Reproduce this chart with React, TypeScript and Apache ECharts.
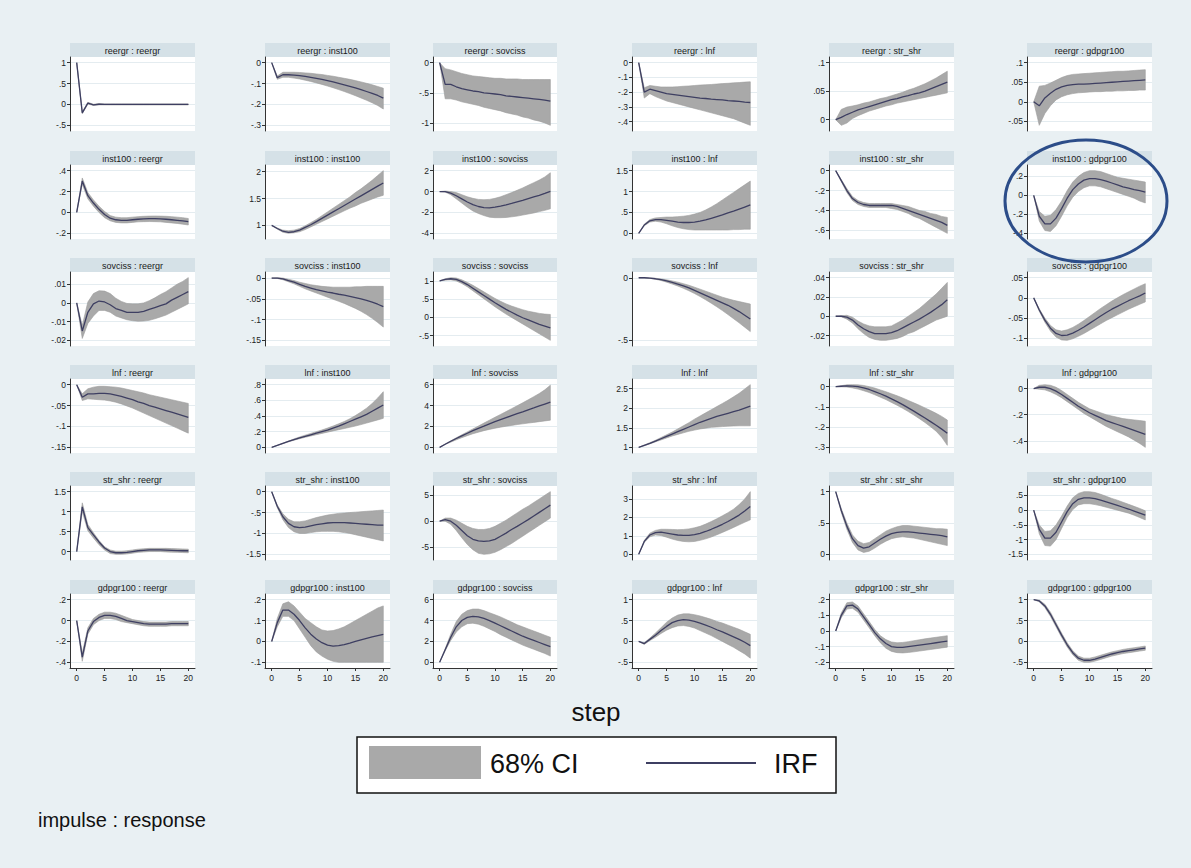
import React, { useEffect, useRef } from "react";
import * as echarts from "echarts";

const VARIABLES = ["reergr", "inst100", "sovciss", "lnf", "str_shr", "gdpgr100"];
const STEPS = [0, 1, 2, 3, 4, 5, 6, 7, 8, 9, 10, 11, 12, 13, 14, 15, 16, 17, 18, 19, 20];
const X_TICKS = [0, 5, 10, 15, 20];

const Y_TICKS_ROW1 = [[-0.5, 0, 0.5, 1], [-0.3, -0.2, -0.1, 0], [-1, -0.5, 0], [-0.4, -0.3, -0.2, -0.1, 0], [0, 0.05, 0.1], [-0.05, 0, 0.05, 0.1]];
const Y_TICKS_ROW2 = [[-0.2, 0, 0.2, 0.4], [1, 1.5, 2], [-4, -2, 0, 2], [0, 0.5, 1, 1.5], [-0.6, -0.4, -0.2, 0], [-0.4, -0.2, 0, 0.2]];
const Y_TICKS_ROW3 = [[-0.02, -0.01, 0, 0.01], [-0.15, -0.1, -0.05, 0], [-0.5, 0, 0.5, 1], [-0.5, 0], [-0.02, 0, 0.02, 0.04], [-0.1, -0.05, 0, 0.05]];
const Y_TICKS_ROW4 = [[-0.15, -0.1, -0.05, 0], [0, 0.2, 0.4, 0.6, 0.8], [0, 2, 4, 6], [1, 1.5, 2, 2.5], [-0.3, -0.2, -0.1, 0], [-0.4, -0.2, 0]];
const Y_TICKS_ROW5 = [[0, 0.5, 1, 1.5], [-1.5, -1, -0.5, 0], [-5, 0, 5], [0, 1, 2, 3], [0, 0.5, 1], [-1.5, -1, -0.5, 0, 0.5]];
const Y_TICKS_ROW6 = [[-0.4, -0.2, 0, 0.2], [-0.1, 0, 0.1, 0.2], [0, 2, 4, 6], [-0.5, 0, 0.5, 1], [-0.2, -0.1, 0, 0.1, 0.2], [-0.5, 0, 0.5, 1]];

// impulse reergr
const irf11 = [1, -0.2, 0.03, -0.01, 0.005, 0, 0, 0, 0, 0, 0, 0, 0, 0, 0, 0, 0, 0, 0, 0, 0];
const lo11 = [1, -0.22, 0.01, -0.025, -0.01, -0.012, -0.012, -0.012, -0.012, -0.012, -0.012, -0.012, -0.012, -0.012, -0.012, -0.012, -0.012, -0.012, -0.012, -0.012, -0.012];
const hi11 = [1, -0.18, 0.05, 0.005, 0.02, 0.012, 0.012, 0.012, 0.012, 0.012, 0.012, 0.012, 0.012, 0.012, 0.012, 0.012, 0.012, 0.012, 0.012, 0.012, 0.012];
const irf12 = [0, -0.072, -0.058, -0.058, -0.06, -0.062, -0.066, -0.07, -0.075, -0.08, -0.086, -0.092, -0.099, -0.106, -0.113, -0.121, -0.129, -0.138, -0.147, -0.157, -0.17];
const lo12 = [0, -0.08, -0.07, -0.07, -0.074, -0.078, -0.084, -0.09, -0.097, -0.104, -0.112, -0.12, -0.129, -0.138, -0.148, -0.158, -0.169, -0.18, -0.192, -0.205, -0.222];
const hi12 = [0, -0.064, -0.046, -0.046, -0.046, -0.047, -0.049, -0.051, -0.054, -0.057, -0.061, -0.065, -0.07, -0.075, -0.08, -0.086, -0.092, -0.099, -0.106, -0.114, -0.122];
const irf13 = [0, -0.36, -0.36, -0.4, -0.43, -0.45, -0.47, -0.48, -0.5, -0.51, -0.52, -0.53, -0.55, -0.56, -0.57, -0.58, -0.59, -0.6, -0.61, -0.62, -0.64];
const lo13 = [0, -0.6, -0.6, -0.62, -0.65, -0.67, -0.69, -0.71, -0.74, -0.76, -0.78, -0.8, -0.83, -0.85, -0.87, -0.9, -0.92, -0.95, -0.97, -1.0, -1.04];
const hi13 = [0, -0.1, -0.12, -0.15, -0.18, -0.2, -0.22, -0.23, -0.24, -0.25, -0.26, -0.26, -0.27, -0.27, -0.27, -0.28, -0.28, -0.28, -0.28, -0.28, -0.28];
const irf14 = [0, -0.2, -0.18, -0.19, -0.2, -0.21, -0.215, -0.22, -0.225, -0.23, -0.235, -0.24, -0.243, -0.247, -0.25, -0.253, -0.257, -0.26, -0.263, -0.267, -0.27];
const lo14 = [0, -0.24, -0.21, -0.23, -0.245, -0.26, -0.27, -0.28, -0.29, -0.3, -0.31, -0.32, -0.33, -0.34, -0.35, -0.36, -0.37, -0.38, -0.395, -0.41, -0.425];
const hi14 = [0, -0.17, -0.155, -0.16, -0.165, -0.165, -0.165, -0.163, -0.16, -0.158, -0.155, -0.152, -0.15, -0.148, -0.145, -0.142, -0.14, -0.137, -0.135, -0.132, -0.13];
const irf15 = [0, 0.004, 0.009, 0.013, 0.017, 0.02, 0.023, 0.026, 0.029, 0.032, 0.035, 0.037, 0.04, 0.042, 0.045, 0.047, 0.05, 0.054, 0.058, 0.062, 0.066];
const lo15 = [0, -0.01, -0.006, 0.002, 0.007, 0.011, 0.015, 0.018, 0.021, 0.024, 0.026, 0.029, 0.031, 0.033, 0.035, 0.037, 0.039, 0.041, 0.043, 0.045, 0.047];
const hi15 = [0, 0.018, 0.022, 0.024, 0.026, 0.029, 0.031, 0.034, 0.037, 0.039, 0.042, 0.045, 0.048, 0.052, 0.055, 0.059, 0.063, 0.068, 0.073, 0.079, 0.085];
const irf16 = [0, -0.01, 0.01, 0.022, 0.032, 0.038, 0.042, 0.044, 0.045, 0.045, 0.046, 0.047, 0.048, 0.049, 0.05, 0.051, 0.052, 0.053, 0.054, 0.055, 0.056];
const lo16 = [0, -0.06, -0.03, -0.01, 0.005, 0.013, 0.018, 0.021, 0.023, 0.024, 0.025, 0.026, 0.026, 0.027, 0.027, 0.028, 0.028, 0.029, 0.029, 0.03, 0.03];
const hi16 = [0, 0.04, 0.042, 0.048, 0.055, 0.062, 0.067, 0.07, 0.071, 0.072, 0.073, 0.074, 0.075, 0.076, 0.077, 0.078, 0.078, 0.079, 0.08, 0.081, 0.082];

// impulse inst100
const irf21 = [0, 0.3, 0.16, 0.09, 0.03, -0.02, -0.055, -0.07, -0.075, -0.075, -0.07, -0.065, -0.062, -0.06, -0.06, -0.062, -0.065, -0.07, -0.075, -0.08, -0.088];
const lo21 = [0, 0.27, 0.13, 0.06, 0, -0.05, -0.08, -0.095, -0.1, -0.1, -0.095, -0.09, -0.088, -0.087, -0.088, -0.09, -0.095, -0.1, -0.105, -0.112, -0.12];
const hi21 = [0, 0.33, 0.19, 0.12, 0.06, 0.01, -0.03, -0.045, -0.05, -0.05, -0.045, -0.04, -0.037, -0.035, -0.034, -0.035, -0.037, -0.04, -0.045, -0.05, -0.058];
const irf22 = [1, 0.94, 0.89, 0.87, 0.88, 0.91, 0.96, 1.01, 1.07, 1.13, 1.19, 1.25, 1.31, 1.37, 1.43, 1.49, 1.55, 1.61, 1.67, 1.73, 1.79];
const lo22 = [1, 0.93, 0.87, 0.85, 0.86, 0.88, 0.92, 0.97, 1.02, 1.07, 1.12, 1.17, 1.22, 1.27, 1.32, 1.36, 1.41, 1.45, 1.49, 1.53, 1.56];
const hi22 = [1, 0.95, 0.91, 0.9, 0.91, 0.94, 0.99, 1.05, 1.11, 1.18, 1.25, 1.32, 1.39, 1.46, 1.53, 1.61, 1.68, 1.76, 1.84, 1.93, 2.02];
const irf23 = [0, 0, -0.15, -0.4, -0.7, -1.0, -1.25, -1.43, -1.53, -1.57, -1.5, -1.4, -1.28, -1.14, -0.99, -0.84, -0.68, -0.52, -0.36, -0.18, 0.02];
const lo23 = [0, -0.05, -0.3, -0.7, -1.1, -1.5, -1.85, -2.1, -2.3, -2.45, -2.5, -2.5, -2.48, -2.42, -2.35, -2.25, -2.15, -2.05, -1.92, -1.8, -1.65];
const hi23 = [0, 0.05, 0, -0.1, -0.3, -0.5, -0.65, -0.75, -0.78, -0.75, -0.65, -0.5, -0.3, -0.1, 0.12, 0.35, 0.6, 0.85, 1.1, 1.4, 1.8];
const irf24 = [0, 0.2, 0.3, 0.33, 0.33, 0.31, 0.29, 0.27, 0.26, 0.26, 0.27, 0.29, 0.32, 0.36, 0.4, 0.44, 0.49, 0.53, 0.58, 0.63, 0.68];
const lo24 = [0, 0.18, 0.27, 0.29, 0.27, 0.23, 0.18, 0.14, 0.11, 0.09, 0.08, 0.08, 0.08, 0.08, 0.08, 0.08, 0.08, 0.09, 0.09, 0.1, 0.1];
const hi24 = [0, 0.22, 0.33, 0.37, 0.38, 0.39, 0.39, 0.4, 0.41, 0.43, 0.46, 0.5, 0.56, 0.63, 0.71, 0.8, 0.89, 0.98, 1.07, 1.16, 1.25];
const irf25 = [0, -0.1, -0.2, -0.28, -0.32, -0.34, -0.35, -0.35, -0.35, -0.35, -0.35, -0.36, -0.38, -0.4, -0.42, -0.44, -0.46, -0.48, -0.5, -0.52, -0.55];
const lo25 = [0, -0.11, -0.22, -0.3, -0.34, -0.36, -0.37, -0.37, -0.37, -0.37, -0.38, -0.39, -0.41, -0.43, -0.46, -0.48, -0.51, -0.54, -0.57, -0.6, -0.63];
const hi25 = [0, -0.09, -0.18, -0.26, -0.3, -0.32, -0.33, -0.33, -0.33, -0.33, -0.33, -0.34, -0.35, -0.36, -0.38, -0.4, -0.41, -0.43, -0.44, -0.46, -0.47];
const irf26 = [0, -0.22, -0.3, -0.3, -0.24, -0.14, -0.03, 0.06, 0.12, 0.16, 0.175, 0.175, 0.165, 0.15, 0.13, 0.11, 0.09, 0.075, 0.06, 0.05, 0.035];
const lo26 = [0, -0.27, -0.37, -0.38, -0.32, -0.22, -0.11, -0.02, 0.04, 0.08, 0.1, 0.1, 0.09, 0.07, 0.05, 0.03, 0.01, -0.01, -0.03, -0.06, -0.08];
const hi26 = [0, -0.17, -0.22, -0.21, -0.15, -0.06, 0.05, 0.14, 0.2, 0.24, 0.26, 0.26, 0.25, 0.23, 0.21, 0.19, 0.18, 0.17, 0.16, 0.15, 0.14];

// impulse sovciss
const irf31 = [0, -0.015, -0.005, -0.0005, 0.001, 0.0005, -0.001, -0.003, -0.004, -0.005, -0.005, -0.005, -0.0045, -0.0035, -0.0025, -0.0015, -0.0005, 0.0015, 0.003, 0.0045, 0.006];
const lo31 = [0, -0.019, -0.011, -0.007, -0.004, -0.004, -0.005, -0.007, -0.008, -0.009, -0.0095, -0.0098, -0.0097, -0.0093, -0.0085, -0.0075, -0.0065, -0.005, -0.0035, -0.002, -0.0005];
const hi31 = [0, -0.012, 0.0005, 0.005, 0.0065, 0.0063, 0.005, 0.0025, 0.0008, -0.0003, -0.0005, -0.0005, 0, 0.0012, 0.0027, 0.0045, 0.006, 0.008, 0.01, 0.0115, 0.0135];
const irf32 = [0, 0, -0.002, -0.006, -0.01, -0.015, -0.02, -0.024, -0.028, -0.031, -0.034, -0.036, -0.039, -0.041, -0.044, -0.047, -0.05, -0.054, -0.058, -0.063, -0.069];
const lo32 = [0, -0.001, -0.004, -0.009, -0.014, -0.02, -0.026, -0.031, -0.036, -0.041, -0.046, -0.051, -0.056, -0.061, -0.067, -0.073, -0.08, -0.088, -0.097, -0.107, -0.118];
const hi32 = [0, 0.001, 0, -0.003, -0.006, -0.01, -0.013, -0.016, -0.018, -0.02, -0.021, -0.022, -0.022, -0.022, -0.022, -0.021, -0.021, -0.02, -0.02, -0.02, -0.02];
const irf33 = [1, 1.04, 1.06, 1.04, 0.98, 0.9, 0.8, 0.7, 0.6, 0.5, 0.4, 0.31, 0.22, 0.14, 0.06, -0.01, -0.07, -0.13, -0.19, -0.24, -0.29];
const lo33 = [1, 1.02, 1.03, 1.0, 0.93, 0.84, 0.73, 0.62, 0.51, 0.4, 0.29, 0.19, 0.09, 0, -0.09, -0.18, -0.27, -0.36, -0.45, -0.54, -0.63];
const hi33 = [1, 1.06, 1.09, 1.08, 1.03, 0.96, 0.88, 0.79, 0.7, 0.61, 0.52, 0.44, 0.37, 0.31, 0.26, 0.21, 0.17, 0.14, 0.11, 0.09, 0.08];
const irf34 = [0, 0, -0.003, -0.008, -0.015, -0.025, -0.037, -0.05, -0.065, -0.08, -0.1, -0.12, -0.14, -0.16, -0.18, -0.2, -0.22, -0.245, -0.27, -0.3, -0.33];
const lo34 = [0, -0.001, -0.005, -0.012, -0.022, -0.035, -0.05, -0.066, -0.084, -0.104, -0.126, -0.15, -0.176, -0.203, -0.232, -0.262, -0.294, -0.327, -0.36, -0.395, -0.43];
const hi34 = [0, 0.001, -0.001, -0.004, -0.009, -0.016, -0.025, -0.035, -0.047, -0.06, -0.075, -0.091, -0.107, -0.123, -0.139, -0.155, -0.168, -0.18, -0.19, -0.2, -0.21];
const irf35 = [0, 0, -0.001, -0.004, -0.009, -0.013, -0.016, -0.018, -0.018, -0.018, -0.017, -0.015, -0.012, -0.009, -0.006, -0.003, 0.0005, 0.004, 0.008, 0.012, 0.017];
const lo35 = [0, -0.0005, -0.003, -0.007, -0.013, -0.018, -0.022, -0.024, -0.025, -0.025, -0.024, -0.023, -0.021, -0.018, -0.016, -0.013, -0.01, -0.007, -0.004, -0.002, 0];
const hi35 = [0, 0.0005, 0.001, -0.001, -0.005, -0.008, -0.01, -0.011, -0.011, -0.011, -0.01, -0.007, -0.004, 0, 0.004, 0.008, 0.013, 0.018, 0.023, 0.029, 0.035];
const irf36 = [0, -0.03, -0.055, -0.075, -0.088, -0.093, -0.092, -0.087, -0.08, -0.072, -0.063, -0.054, -0.045, -0.036, -0.028, -0.021, -0.014, -0.007, -0.001, 0.005, 0.012];
const lo36 = [0, -0.033, -0.06, -0.082, -0.097, -0.104, -0.105, -0.101, -0.095, -0.088, -0.08, -0.072, -0.064, -0.056, -0.049, -0.042, -0.035, -0.028, -0.022, -0.016, -0.01];
const hi36 = [0, -0.027, -0.05, -0.068, -0.079, -0.082, -0.079, -0.073, -0.065, -0.056, -0.046, -0.036, -0.026, -0.017, -0.008, 0, 0.008, 0.015, 0.022, 0.029, 0.035];

// impulse lnf
const irf41 = [0, -0.03, -0.022, -0.022, -0.021, -0.021, -0.022, -0.025, -0.028, -0.032, -0.036, -0.041, -0.045, -0.05, -0.054, -0.058, -0.062, -0.066, -0.07, -0.074, -0.078];
const lo41 = [0, -0.038, -0.034, -0.035, -0.036, -0.037, -0.039, -0.042, -0.046, -0.051, -0.056, -0.062, -0.068, -0.074, -0.08, -0.086, -0.092, -0.098, -0.104, -0.11, -0.116];
const hi41 = [0, -0.022, -0.01, -0.006, -0.004, -0.004, -0.005, -0.006, -0.008, -0.011, -0.014, -0.017, -0.02, -0.024, -0.027, -0.03, -0.033, -0.036, -0.039, -0.042, -0.045];
const irf42 = [0, 0.025, 0.05, 0.075, 0.1, 0.12, 0.14, 0.16, 0.18, 0.2, 0.22, 0.245, 0.27, 0.3, 0.33, 0.36, 0.39, 0.42, 0.46, 0.5, 0.54];
const lo42 = [0, 0.024, 0.047, 0.07, 0.092, 0.11, 0.128, 0.145, 0.162, 0.178, 0.194, 0.21, 0.225, 0.24, 0.256, 0.272, 0.29, 0.31, 0.33, 0.35, 0.37];
const hi42 = [0, 0.026, 0.053, 0.08, 0.108, 0.133, 0.156, 0.178, 0.2, 0.222, 0.246, 0.272, 0.3, 0.33, 0.365, 0.405, 0.45, 0.5, 0.56, 0.63, 0.71];
const irf43 = [0, 0.3, 0.58, 0.85, 1.1, 1.35, 1.6, 1.82, 2.03, 2.25, 2.46, 2.65, 2.84, 3.03, 3.22, 3.4, 3.59, 3.77, 3.96, 4.14, 4.32];
const lo43 = [0, 0.28, 0.5, 0.72, 0.93, 1.12, 1.3, 1.45, 1.6, 1.72, 1.83, 1.93, 2.02, 2.1, 2.18, 2.25, 2.32, 2.39, 2.46, 2.53, 2.6];
const hi43 = [0, 0.32, 0.62, 0.92, 1.2, 1.48, 1.76, 2.04, 2.32, 2.6, 2.88, 3.15, 3.42, 3.7, 3.98, 4.26, 4.55, 4.85, 5.15, 5.5, 5.95];
const irf44 = [1, 1.05, 1.1, 1.16, 1.22, 1.28, 1.34, 1.4, 1.46, 1.52, 1.58, 1.64, 1.69, 1.74, 1.79, 1.83, 1.87, 1.91, 1.95, 2.0, 2.05];
const lo44 = [1, 1.04, 1.09, 1.14, 1.19, 1.24, 1.29, 1.33, 1.37, 1.41, 1.44, 1.47, 1.49, 1.51, 1.52, 1.53, 1.54, 1.545, 1.55, 1.55, 1.55];
const hi44 = [1, 1.06, 1.12, 1.18, 1.25, 1.32, 1.39, 1.47, 1.55, 1.63, 1.72, 1.8, 1.88, 1.96, 2.04, 2.12, 2.2, 2.29, 2.38, 2.49, 2.6];
const irf45 = [0, 0.002, 0.004, 0.003, 0, -0.006, -0.014, -0.024, -0.035, -0.047, -0.06, -0.074, -0.089, -0.105, -0.121, -0.138, -0.155, -0.173, -0.191, -0.21, -0.23];
const lo45 = [0, -0.001, -0.002, -0.006, -0.012, -0.02, -0.029, -0.04, -0.052, -0.064, -0.078, -0.092, -0.107, -0.123, -0.14, -0.158, -0.177, -0.198, -0.22, -0.25, -0.29];
const hi45 = [0, 0.005, 0.009, 0.01, 0.009, 0.006, 0, -0.007, -0.016, -0.025, -0.035, -0.045, -0.056, -0.068, -0.08, -0.092, -0.105, -0.118, -0.132, -0.147, -0.165];
const irf46 = [0, 0.01, 0.01, 0, -0.02, -0.045, -0.075, -0.105, -0.135, -0.16, -0.185, -0.205, -0.225, -0.245, -0.26, -0.275, -0.29, -0.305, -0.32, -0.335, -0.35];
const lo46 = [0, -0.005, -0.01, -0.025, -0.045, -0.07, -0.1, -0.13, -0.16, -0.19, -0.215, -0.24, -0.265, -0.29, -0.31, -0.33, -0.35, -0.37, -0.395, -0.42, -0.45];
const hi46 = [0, 0.025, 0.03, 0.025, 0.01, -0.015, -0.045, -0.075, -0.105, -0.13, -0.155, -0.17, -0.185, -0.2, -0.21, -0.22, -0.23, -0.235, -0.24, -0.245, -0.25];

// impulse str_shr
const irf51 = [0, 1.12, 0.6, 0.42, 0.24, 0.09, 0, -0.03, -0.03, -0.02, 0, 0.02, 0.03, 0.04, 0.04, 0.04, 0.035, 0.03, 0.025, 0.02, 0.02];
const lo51 = [0, 1.0, 0.52, 0.34, 0.17, 0.04, -0.05, -0.07, -0.07, -0.06, -0.04, -0.02, -0.01, 0, 0, 0, -0.01, -0.015, -0.02, -0.025, -0.03];
const hi51 = [0, 1.22, 0.68, 0.47, 0.28, 0.12, 0.04, 0.01, 0.01, 0.02, 0.04, 0.06, 0.07, 0.08, 0.08, 0.08, 0.08, 0.075, 0.07, 0.065, 0.06];
const irf52 = [0, -0.35, -0.6, -0.76, -0.84, -0.86, -0.85, -0.82, -0.79, -0.77, -0.75, -0.74, -0.74, -0.74, -0.75, -0.76, -0.77, -0.78, -0.79, -0.8, -0.8];
const lo52 = [0, -0.38, -0.67, -0.86, -0.96, -1.0, -1.0, -0.98, -0.96, -0.95, -0.95, -0.95, -0.96, -0.98, -1.0, -1.03, -1.06, -1.09, -1.12, -1.15, -1.18];
const hi52 = [0, -0.32, -0.53, -0.66, -0.72, -0.72, -0.7, -0.66, -0.62, -0.59, -0.56, -0.54, -0.52, -0.51, -0.5, -0.49, -0.48, -0.47, -0.46, -0.45, -0.44];
const irf53 = [0, 0.3, 0, -0.8, -1.8, -2.8, -3.5, -3.8, -3.9, -3.8, -3.5, -2.9, -2.3, -1.6, -1.0, -0.35, 0.3, 1.0, 1.7, 2.4, 3.1];
const lo53 = [0, 0, -0.6, -1.8, -3.2, -4.5, -5.5, -6.2, -6.4, -6.3, -6.0, -5.5, -4.9, -4.3, -3.6, -2.9, -2.2, -1.5, -0.8, -0.1, 0.6];
const hi53 = [0, 0.6, 0.6, 0.2, -0.4, -1.0, -1.4, -1.6, -1.6, -1.4, -1.0, -0.4, 0.2, 0.9, 1.6, 2.3, 2.9, 3.6, 4.3, 5.0, 5.7];
const irf54 = [0, 0.7, 1.05, 1.18, 1.2, 1.15, 1.1, 1.05, 1.03, 1.03, 1.07, 1.14, 1.24, 1.36, 1.49, 1.63, 1.78, 1.95, 2.13, 2.35, 2.6];
const lo54 = [0, 0.65, 0.95, 1.05, 1.02, 0.93, 0.83, 0.75, 0.7, 0.68, 0.7, 0.76, 0.84, 0.94, 1.06, 1.19, 1.32, 1.46, 1.6, 1.74, 1.87];
const hi54 = [0, 0.75, 1.15, 1.3, 1.36, 1.36, 1.35, 1.34, 1.35, 1.38, 1.44, 1.52, 1.64, 1.78, 1.93, 2.09, 2.26, 2.45, 2.7, 3.0, 3.4];
const irf55 = [1, 0.7, 0.45, 0.25, 0.14, 0.1, 0.12, 0.18, 0.24, 0.29, 0.33, 0.35, 0.36, 0.36, 0.35, 0.34, 0.33, 0.32, 0.31, 0.3, 0.28];
const lo55 = [1, 0.67, 0.4, 0.19, 0.07, 0.03, 0.05, 0.1, 0.16, 0.21, 0.25, 0.27, 0.28, 0.27, 0.26, 0.24, 0.22, 0.2, 0.18, 0.16, 0.14];
const hi55 = [1, 0.73, 0.5, 0.31, 0.21, 0.17, 0.19, 0.25, 0.31, 0.37, 0.41, 0.44, 0.46, 0.46, 0.45, 0.44, 0.43, 0.42, 0.41, 0.41, 0.4];
const irf56 = [0, -0.65, -0.95, -0.95, -0.75, -0.4, -0.05, 0.22, 0.37, 0.42, 0.42, 0.39, 0.34, 0.28, 0.22, 0.16, 0.1, 0.04, -0.03, -0.1, -0.17];
const lo56 = [0, -0.8, -1.2, -1.22, -1.0, -0.62, -0.25, 0.02, 0.18, 0.22, 0.22, 0.19, 0.15, 0.1, 0.05, 0, -0.05, -0.1, -0.17, -0.25, -0.33];
const hi56 = [0, -0.5, -0.72, -0.7, -0.5, -0.2, 0.14, 0.42, 0.57, 0.63, 0.63, 0.6, 0.54, 0.47, 0.4, 0.34, 0.27, 0.2, 0.13, 0.06, -0.02];

// impulse gdpgr100
const irf61 = [0, -0.35, -0.1, -0.01, 0.03, 0.05, 0.05, 0.04, 0.02, 0, -0.01, -0.02, -0.03, -0.035, -0.035, -0.035, -0.035, -0.03, -0.03, -0.03, -0.03];
const lo61 = [0, -0.39, -0.13, -0.04, 0, 0.02, 0.02, 0.01, -0.01, -0.02, -0.03, -0.04, -0.05, -0.055, -0.055, -0.055, -0.055, -0.05, -0.05, -0.05, -0.05];
const hi61 = [0, -0.31, -0.07, 0.02, 0.06, 0.08, 0.08, 0.07, 0.05, 0.03, 0.01, 0, -0.01, -0.015, -0.015, -0.015, -0.015, -0.01, -0.01, -0.01, -0.01];
const irf62 = [0, 0.09, 0.15, 0.15, 0.13, 0.1, 0.065, 0.035, 0.012, -0.006, -0.018, -0.022, -0.02, -0.015, -0.008, 0, 0.008, 0.015, 0.022, 0.028, 0.034];
const lo62 = [0, 0.07, 0.12, 0.12, 0.1, 0.06, 0.02, -0.02, -0.05, -0.07, -0.085, -0.095, -0.1, -0.1, -0.1, -0.1, -0.1, -0.1, -0.1, -0.1, -0.1];
const hi62 = [0, 0.11, 0.18, 0.19, 0.17, 0.14, 0.11, 0.09, 0.07, 0.055, 0.05, 0.052, 0.06, 0.07, 0.085, 0.1, 0.115, 0.13, 0.145, 0.16, 0.17];
const irf63 = [0, 1.2, 2.4, 3.4, 4.0, 4.3, 4.4, 4.35, 4.2, 4.0, 3.75, 3.5, 3.25, 3.0, 2.75, 2.5, 2.3, 2.1, 1.9, 1.7, 1.5];
const lo63 = [0, 1.1, 2.1, 2.9, 3.4, 3.7, 3.75, 3.65, 3.45, 3.2, 2.95, 2.65, 2.4, 2.15, 1.9, 1.65, 1.45, 1.25, 1.05, 0.85, 0.6];
const hi63 = [0, 1.3, 2.7, 3.9, 4.6, 4.95, 5.1, 5.1, 4.95, 4.75, 4.55, 4.35, 4.1, 3.85, 3.6, 3.4, 3.2, 3.0, 2.8, 2.6, 2.4];
const irf64 = [0, -0.05, 0.05, 0.15, 0.26, 0.36, 0.45, 0.5, 0.52, 0.51, 0.48, 0.44, 0.39, 0.34, 0.28, 0.23, 0.17, 0.11, 0.05, -0.02, -0.1];
const lo64 = [0, -0.07, 0.02, 0.1, 0.19, 0.27, 0.33, 0.37, 0.38, 0.36, 0.32, 0.26, 0.2, 0.14, 0.07, 0, -0.07, -0.14, -0.22, -0.3, -0.4];
const hi64 = [0, -0.03, 0.08, 0.2, 0.33, 0.46, 0.56, 0.63, 0.66, 0.66, 0.64, 0.61, 0.57, 0.53, 0.48, 0.44, 0.39, 0.34, 0.29, 0.23, 0.17];
const irf65 = [0, 0.1, 0.16, 0.165, 0.14, 0.09, 0.04, -0.01, -0.05, -0.08, -0.1, -0.105, -0.105, -0.1, -0.095, -0.09, -0.085, -0.08, -0.075, -0.07, -0.065];
const lo65 = [0, 0.085, 0.14, 0.145, 0.12, 0.07, 0.02, -0.03, -0.075, -0.11, -0.13, -0.138, -0.14, -0.137, -0.133, -0.128, -0.123, -0.118, -0.113, -0.108, -0.103];
const hi65 = [0, 0.115, 0.18, 0.185, 0.16, 0.11, 0.06, 0.01, -0.03, -0.055, -0.07, -0.075, -0.073, -0.068, -0.062, -0.056, -0.05, -0.045, -0.04, -0.035, -0.03];
const irf66 = [1, 0.97, 0.85, 0.65, 0.4, 0.15, -0.08, -0.27, -0.4, -0.45, -0.45, -0.42, -0.38, -0.34, -0.3, -0.27, -0.24, -0.22, -0.2, -0.18, -0.16];
const lo66 = [1, 0.95, 0.81, 0.6, 0.35, 0.1, -0.13, -0.32, -0.45, -0.5, -0.5, -0.47, -0.43, -0.39, -0.35, -0.32, -0.29, -0.27, -0.25, -0.23, -0.21];
const hi66 = [1, 0.99, 0.89, 0.7, 0.45, 0.2, -0.03, -0.22, -0.35, -0.4, -0.4, -0.37, -0.33, -0.29, -0.25, -0.22, -0.19, -0.17, -0.15, -0.13, -0.11];

const PANELS = [
  [irf11, lo11, hi11], [irf12, lo12, hi12], [irf13, lo13, hi13], [irf14, lo14, hi14], [irf15, lo15, hi15], [irf16, lo16, hi16],
  [irf21, lo21, hi21], [irf22, lo22, hi22], [irf23, lo23, hi23], [irf24, lo24, hi24], [irf25, lo25, hi25], [irf26, lo26, hi26],
  [irf31, lo31, hi31], [irf32, lo32, hi32], [irf33, lo33, hi33], [irf34, lo34, hi34], [irf35, lo35, hi35], [irf36, lo36, hi36],
  [irf41, lo41, hi41], [irf42, lo42, hi42], [irf43, lo43, hi43], [irf44, lo44, hi44], [irf45, lo45, hi45], [irf46, lo46, hi46],
  [irf51, lo51, hi51], [irf52, lo52, hi52], [irf53, lo53, hi53], [irf54, lo54, hi54], [irf55, lo55, hi55], [irf56, lo56, hi56],
  [irf61, lo61, hi61], [irf62, lo62, hi62], [irf63, lo63, hi63], [irf64, lo64, hi64], [irf65, lo65, hi65], [irf66, lo66, hi66],
];
const Y_TICKS = [...Y_TICKS_ROW1, ...Y_TICKS_ROW2, ...Y_TICKS_ROW3, ...Y_TICKS_ROW4, ...Y_TICKS_ROW5, ...Y_TICKS_ROW6];

// layout
const COL_LEFT = [70, 265, 433, 632, 829, 1027];
const COL_W = [125, 125, 124, 125, 125, 125];
const STRIP_TOP = [43, 151, 258, 365, 472, 580];
const STRIP_H = 14;
const PLOT_H = 74;
const FONT = "'Liberation Sans', Arial, Helvetica, sans-serif";
const BAND_COLOR = "#a9a9a9";
const LINE_COLOR = "#3e3f62";

const fmt = (v: number) => {
  const r = Math.round(v * 100000) / 100000;
  return String(r).replace(/^0\./, ".").replace(/^-0\./, "-.");
};

function buildOption() {
  const grid: any[] = [];
  const xAxis: any[] = [];
  const yAxis: any[] = [];
  const series: any[] = [];
  const graphic: any[] = [];

  for (let i = 0; i < 36; i++) {
    const r = Math.floor(i / 6);
    const c = i % 6;
    const [irf, lo, hi] = PANELS[i];
    const ticks = Y_TICKS[i];
    const dMin = Math.min(...ticks, ...lo);
    const dMax = Math.max(...ticks, ...hi);
    const pad = (dMax - dMin) * 0.09;

    grid.push({
      left: COL_LEFT[c],
      top: STRIP_TOP[r] + STRIP_H,
      width: COL_W[c],
      height: PLOT_H,
      show: true,
      backgroundColor: "#ffffff",
      borderWidth: 0,
      containLabel: false,
      outerBoundsMode: "none",
    });
    const bottomRow = r === 5;
    xAxis.push({
      type: "value",
      gridIndex: i,
      min: -1.2,
      max: 21.2,
      show: bottomRow,
      axisLine: { show: true, onZero: false, lineStyle: { color: "#333", width: 1 } },
      axisTick: { show: true, length: 3, customValues: X_TICKS, lineStyle: { color: "#333" } },
      axisLabel: { show: true, customValues: X_TICKS, fontSize: 8.5, fontFamily: FONT, color: "#222", margin: 5 },
      splitLine: { show: false },
    });
    yAxis.push({
      type: "value",
      gridIndex: i,
      min: dMin - pad,
      max: dMax + pad,
      axisLine: { show: true, onZero: false, lineStyle: { color: "#333", width: 1 } },
      axisTick: { show: true, length: 3, customValues: ticks, lineStyle: { color: "#333" } },
      axisLabel: { show: true, customValues: ticks, fontSize: 8.5, fontFamily: FONT, color: "#222", margin: 4, formatter: (v: number) => fmt(v) },
      splitLine: { show: true, lineStyle: { color: "#e4ecf0", width: 1 } },
    });
    // confidence band: one polygon through the axis scales
    series.push({
      type: "custom",
      xAxisIndex: i,
      yAxisIndex: i,
      silent: true,
      z: 2,
      data: STEPS.map((s, k) => [s, lo[k], hi[k]]),
      encode: { x: 0, y: [1, 2] },
      renderItem: (params: any, api: any) => {
        if (params.dataIndex !== 0) return null;
        const pts: number[][] = [];
        for (let k = 0; k < STEPS.length; k++) pts.push(api.coord([STEPS[k], hi[k]]));
        for (let k = STEPS.length - 1; k >= 0; k--) pts.push(api.coord([STEPS[k], lo[k]]));
        return {
          type: "polygon",
          shape: { points: pts },
          style: { fill: BAND_COLOR, stroke: "#9c9c9c", lineWidth: 0.6 },
        };
      },
    });
    series.push({
      type: "line",
      xAxisIndex: i,
      yAxisIndex: i,
      data: STEPS.map((s, k) => [s, irf[k]]),
      symbol: "none",
      silent: true,
      lineStyle: { color: LINE_COLOR, width: 1.3 },
      z: 3,
    });

    graphic.push({
      type: "rect",
      silent: true,
      shape: { x: COL_LEFT[c], y: STRIP_TOP[r], width: COL_W[c], height: STRIP_H },
      style: { fill: "#d5e1e7" },
    });
    graphic.push({
      type: "text",
      silent: true,
      x: COL_LEFT[c] + COL_W[c] / 2,
      y: STRIP_TOP[r] + STRIP_H / 2 + 0.5,
      style: {
        text: `${VARIABLES[r]} : ${VARIABLES[c]}`,
        fontSize: 9,
        fontFamily: FONT,
        fill: "#1a1a1a",
        align: "center",
        verticalAlign: "middle",
      },
    });
  }

  graphic.push({
    type: "text", silent: true, x: 596, y: 712,
    style: { text: "step", fontSize: 26, fontFamily: FONT, fill: "#111", align: "center", verticalAlign: "middle" },
  });
  graphic.push({
    type: "rect", silent: true,
    shape: { x: 357, y: 737, width: 479, height: 56 },
    style: { fill: "#ffffff", stroke: "#111", lineWidth: 1.5 },
  });
  graphic.push({
    type: "rect", silent: true,
    shape: { x: 369, y: 746, width: 112, height: 33 },
    style: { fill: BAND_COLOR },
  });
  graphic.push({
    type: "text", silent: true, x: 490, y: 764,
    style: { text: "68% CI", fontSize: 27, fontFamily: FONT, fill: "#111", align: "left", verticalAlign: "middle" },
  });
  graphic.push({
    type: "line", silent: true,
    shape: { x1: 646, y1: 763, x2: 756, y2: 763 },
    style: { stroke: LINE_COLOR, lineWidth: 2 },
  });
  graphic.push({
    type: "text", silent: true, x: 774, y: 764,
    style: { text: "IRF", fontSize: 27, fontFamily: FONT, fill: "#111", align: "left", verticalAlign: "middle" },
  });
  graphic.push({
    type: "text", silent: true, x: 38, y: 820,
    style: { text: "impulse : response", fontSize: 20, fontFamily: FONT, fill: "#111", align: "left", verticalAlign: "middle" },
  });
  graphic.push({
    type: "ellipse", silent: true, z: 100,
    shape: { cx: 1086, cy: 201, rx: 81, ry: 61 },
    style: { fill: "none", stroke: "#2c4d89", lineWidth: 3 },
  });

  return {
    animation: false,
    backgroundColor: "#e9f0f3",
    grid,
    xAxis,
    yAxis,
    series,
    graphic,
  };
}

export default function App() {
  const ref = useRef<HTMLDivElement>(null);
  useEffect(() => {
    if (!ref.current) return;
    const chart = echarts.init(ref.current, undefined, { renderer: "svg" });
    chart.setOption(buildOption() as any);
    return () => chart.dispose();
  }, []);
  return (
    <div
      ref={ref}
      style={{ position: "fixed", left: 0, top: 0, width: 1191, height: 868 }}
    />
  );
}
